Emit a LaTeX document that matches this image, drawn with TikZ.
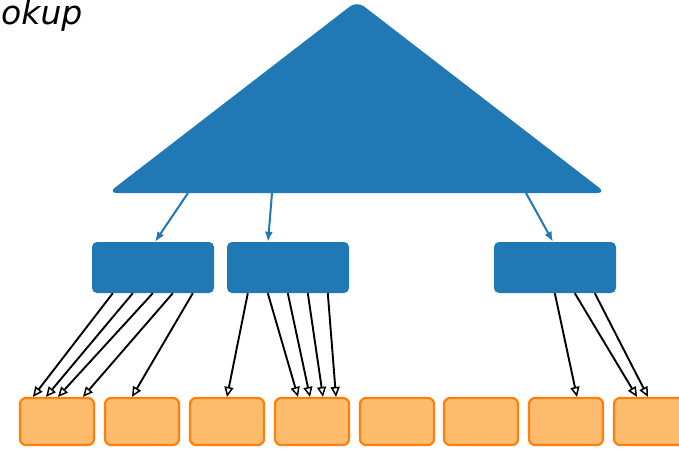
\documentclass[tikz,border=0pt]{standalone}
\usepackage{fontspec}
\usetikzlibrary{arrows.meta}
\newfontfamily\labelfont{DejaVu Sans}
\definecolor{treeblue}{HTML}{2078B4}
\definecolor{leaffill}{HTML}{FDBB6C}
\definecolor{leafedge}{HTML}{FF7F0E}
\tikzset{
  inner/.style={fill=treeblue, draw=none, rounded corners=5pt, minimum width=122pt, minimum height=51pt, inner sep=0pt},
  leaf/.style={fill=leaffill, draw=leafedge, line width=2.2pt, rounded corners=6pt, minimum width=74pt, minimum height=47pt, inner sep=0pt},
  toplink/.style={draw=treeblue, line width=2pt, -{Latex[length=10pt, width=8pt]}},
  leaflink/.style={draw=black, line width=1.9pt, -{Triangle[open, length=10pt, width=9pt, line width=1.5pt]}},
}
\begin{document}
\begin{tikzpicture}[x=1pt, y=-1pt]
\useasboundingbox (0,0) rectangle (679,448);

% root of the index
\coordinate (apex) at (357,1);
\coordinate (bl) at (108,193);
\coordinate (br) at (606,193);
\fill[treeblue, rounded corners=9pt] (apex) -- (br) -- (bl) -- cycle;

\node[font=\labelfont\itshape\fontsize{33}{40}\selectfont, anchor=base west, inner sep=0pt] (title) at (1,24) {okup};

% inner nodes
\node[inner] (n1) at (153,267.5) {};
\node[inner] (n2) at (288,267.5) {};
\node[inner] (n3) at (555,267.5) {};

% leaves
\foreach \i/\x in {1/57,2/142,3/227,4/312,5/397,6/481,7/566,8/651}
  \node[leaf] (l\i) at (\x,421.5) {};

% root to inner nodes
\coordinate (r1) at (188,193);
\coordinate (r2) at (272,193);
\coordinate (r3) at (526,193);
\draw[toplink] (r1) -- ([xshift=2pt]n1.north);
\draw[toplink] (r2) -- ([xshift=-20pt]n2.north);
\draw[toplink] (r3) -- ([xshift=-2pt]n3.north);

% inner node 1 to leaves
\draw[leaflink] ([xshift=21pt]n1.south west) -- ([xshift=14pt]l1.north west);
\draw[leaflink] ([xshift=41pt]n1.south west) -- ([xshift=27pt]l1.north west);
\draw[leaflink] ([xshift=61pt]n1.south west) -- ([xshift=39pt]l1.north west);
\draw[leaflink] ([xshift=81pt]n1.south west) -- ([xshift=64pt]l1.north west);
\draw[leaflink] ([xshift=101pt]n1.south west) -- ([xshift=-10pt]l2.north);

% inner node 2 to leaves
\draw[leaflink] ([xshift=21pt]n2.south west) -- (l3.north);
\draw[leaflink] ([xshift=41pt]n2.south west) -- ([xshift=-14pt]l4.north);
\draw[leaflink] ([xshift=61pt]n2.south west) -- ([xshift=-2pt]l4.north);
\draw[leaflink] ([xshift=81pt]n2.south west) -- ([xshift=11pt]l4.north);
\draw[leaflink] ([xshift=101pt]n2.south west) -- ([xshift=24pt]l4.north);

% inner node 3 to leaves
\draw[leaflink] ([xshift=61pt]n3.south west) -- ([xshift=11pt]l7.north);
\draw[leaflink] ([xshift=81pt]n3.south west) -- ([xshift=-14pt]l8.north);
\draw[leaflink] ([xshift=101pt]n3.south west) -- ([xshift=-3pt]l8.north);
\end{tikzpicture}
\end{document}
